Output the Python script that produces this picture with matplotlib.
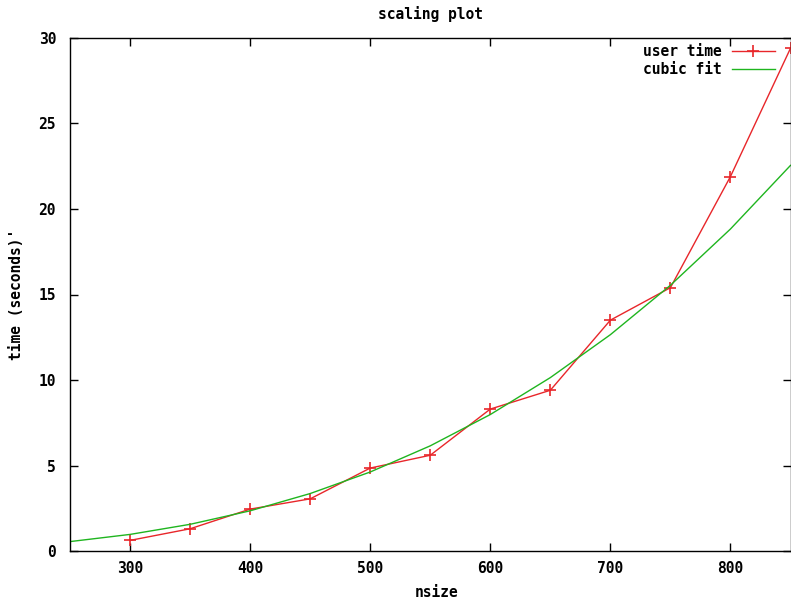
import matplotlib
matplotlib.use("Agg")
import matplotlib.pyplot as plt

# measured run times
nsize = [300, 350, 400, 450, 500, 550, 600, 650, 700, 750, 800, 850]
user_time = [0.62, 1.3, 2.45, 3.05, 4.85, 5.6, 8.3, 9.4, 13.5, 15.4, 21.9, 29.4]

# cubic fit curve
fit_n = [250, 300, 350, 400, 450, 500, 550, 600, 650, 700, 750, 800, 850]
fit_t = [0.55, 0.97, 1.56, 2.35, 3.36, 4.62, 6.15, 7.98, 10.14, 12.65, 15.54, 18.83, 22.55]

xticks = [300, 400, 500, 600, 700, 800]
yticks = [0, 5, 10, 15, 20, 25, 30]

font = dict(family="DejaVu Sans Mono", weight="bold", size=10.5)

fig = plt.figure(figsize=(7.91, 6.0), dpi=100)
ax = fig.add_axes([70 / 791, 1 - 551 / 600, 720.5 / 791, 513 / 600])

ax.plot(nsize, user_time, color="#e8262a", lw=1.0, marker="+", ms=9, mew=1.2,
        label="user time")
ax.plot(fit_n, fit_t, color="#1fb51f", lw=1.0, label="cubic fit")

ax.set_xlim(250, 850)
ax.set_ylim(0, 30)
ax.set_xticks(xticks)
ax.set_yticks(yticks)
ax.set_xticklabels([str(v) for v in xticks], fontdict=font)
ax.set_yticklabels([str(v) for v in yticks], fontdict=font)
ax.tick_params(axis="x", direction="in", length=6, width=1, top=True, pad=7)
ax.tick_params(axis="y", direction="in", length=6, width=1, right=True, pad=10)
for s in ax.spines.values():
    s.set_linewidth(1.0)

ax.set_xlabel("nsize", fontdict=font)
ax.xaxis.set_label_coords(0.509, -0.066)
ax.set_ylabel("time (seconds)'", fontdict=font)
ax.yaxis.set_label_coords(-0.064, 0.5)
ax.set_title("scaling plot", fontdict=font, pad=14)

leg = ax.legend(loc="upper right", bbox_to_anchor=(0.987, 1.0), frameon=False,
                markerfirst=False,
                prop=dict(family="DejaVu Sans Mono", weight="bold", size=10.5),
                handlelength=3.0, borderaxespad=0.1, labelspacing=0.2,
                handletextpad=0.7, borderpad=0.3)
for t in leg.get_texts():
    t.set_ha("right")
leg._legend_box.align = "right"

fig.savefig("out.png", dpi=100)
